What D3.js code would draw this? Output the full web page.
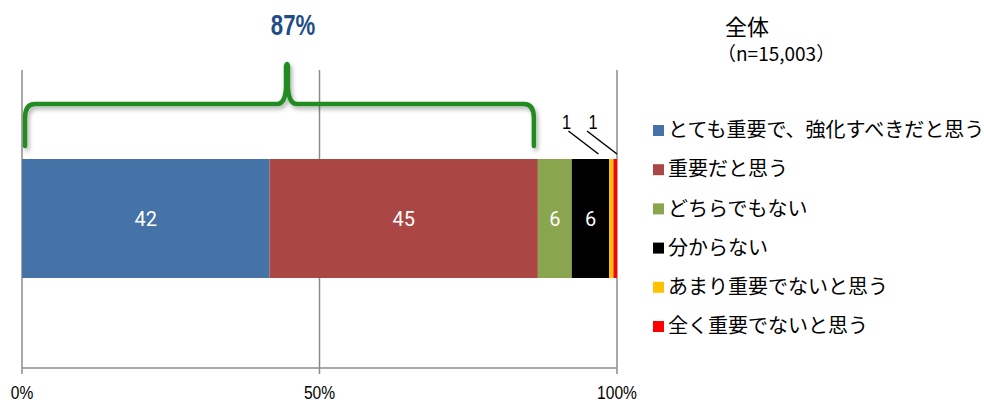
<!DOCTYPE html>
<html>
<head>
<meta charset="utf-8">
<script src="https://cdn.jsdelivr.net/npm/d3@7"></script>
<style>
  body { margin: 0; background: #fff; }
  svg { display: block; }
  .narrow { font-family: "Liberation Sans", Arial, sans-serif; }
  .legend-label { font-family: "Noto Sans CJK JP", sans-serif; font-size: 20px; fill: #000; }
</style>
</head>
<body>
<script>
var categories, values, colors, ticks, svg, x, stacked, acc, defs, brace;

// chart data
categories = ['とても重要で、強化すべきだと思う', '重要だと思う', 'どちらでもない', '分からない', 'あまり重要でないと思う', '全く重要でないと思う'];
values = [41.6, 45.1, 5.7, 6.3, 0.7, 0.6];
colors = ['#4572A7', '#AA4643', '#89A54E', '#000000', '#FFC000', '#FF0000'];
ticks = [0, 50, 100];
var title = '全体';
var subtitle = '（n=15,003）';
var bracketLabel = '87%';
var bracketEnd = 86.7;

svg = d3.select('body').append('svg')
  .attr('width', 984)
  .attr('height', 403);

x = d3.scaleLinear().domain([0, 100]).range([22, 617]);

var barTop = 159, barH = 119, gridTop = 70, gridBottom = 368;

// text squeezed horizontally, stands in for Arial Narrow
function narrowText(px, py, str, size, anchor) {
  return svg.append('text')
    .attr('class', 'narrow')
    .attr('transform', 'translate(' + px + ',' + py + ') scale(0.82,1)')
    .attr('text-anchor', anchor || 'middle')
    .style('font-size', size + 'px')
    .text(str);
}

// stack values
acc = 0;
stacked = values.map(function(v, i) {
  var d = { x0: acc, x1: acc + v, value: v, color: colors[i], name: categories[i] };
  acc += v;
  return d;
});

// gridlines
svg.selectAll('.grid')
  .data(ticks)
  .enter()
  .append('line')
  .attr('class', 'grid')
  .attr('x1', function(d) { return x(d); })
  .attr('x2', function(d) { return x(d); })
  .attr('y1', gridTop)
  .attr('y2', gridBottom + 6)
  .attr('stroke', '#8c8c8c')
  .attr('stroke-width', 1.5);

svg.append('line')
  .attr('x1', x(0)).attr('x2', x(100))
  .attr('y1', gridBottom).attr('y2', gridBottom)
  .attr('stroke', '#8c8c8c')
  .attr('stroke-width', 1.5);

ticks.forEach(function(t) {
  narrowText(x(t), 399, t + '%', 19);
});

// bars
svg.selectAll('.seg')
  .data(stacked)
  .enter()
  .append('rect')
  .attr('class', 'seg')
  .attr('x', function(d) { return x(d.x0); })
  .attr('y', barTop)
  .attr('width', function(d) { return x(d.x1) - x(d.x0); })
  .attr('height', barH)
  .attr('fill', function(d) { return d.color; });

// value labels inside the bigger segments
svg.selectAll('.val')
  .data(stacked.filter(function(d) { return d.value >= 3; }))
  .enter()
  .append('text')
  .attr('class', 'val')
  .attr('x', function(d) { return (x(d.x0) + x(d.x1)) / 2; })
  .attr('y', barTop + barH / 2)
  .attr('dy', '0.36em')
  .attr('text-anchor', 'middle')
  .attr('fill', '#fff')
  .style('font-family', 'Roboto, sans-serif')
  .style('font-size', '20px')
  .text(function(d) { return Math.round(d.value); });

// small segments get labels above with leader lines
var small = stacked.filter(function(d) { return d.value < 3; });
small.forEach(function(d, i) {
  var ex = x(d.x1) - (i === 0 ? 15 : 0);
  var lx = ex - 30;
  svg.append('line')
    .attr('x1', lx).attr('y1', 131)
    .attr('x2', ex).attr('y2', 154)
    .attr('stroke', '#000')
    .attr('stroke-width', 1.5);
  narrowText(lx + (i === 0 ? -2 : 6), 129, Math.round(d.value), 20);
});

// bracket over the top two answers
defs = svg.append('defs');
var f = defs.append('filter').attr('id', 'shadow')
  .attr('x', '-10%').attr('y', '-20%').attr('width', '120%').attr('height', '160%');
f.append('feDropShadow')
  .attr('dx', 2).attr('dy', 3)
  .attr('stdDeviation', 2)
  .attr('flood-color', '#000')
  .attr('flood-opacity', 0.3);

var bx0 = x(0) + 3, bx1 = x(bracketEnd) - 4, mid = 287, hy = 104, by = 146;
brace = d3.path();
brace.moveTo(bx0, by);
brace.lineTo(bx0, hy + 14);
brace.quadraticCurveTo(bx0, hy, bx0 + 10, hy);
brace.lineTo(mid - 10, hy);
brace.quadraticCurveTo(mid - 2, hy, mid - 1, hy - 16);
brace.lineTo(mid - 1, 66);
brace.quadraticCurveTo(mid, 62, mid + 1, 66);
brace.lineTo(mid + 1, hy - 16);
brace.quadraticCurveTo(mid + 2, hy, mid + 10, hy);
brace.lineTo(bx1 - 10, hy);
brace.quadraticCurveTo(bx1, hy, bx1, hy + 14);
brace.lineTo(bx1, by);

svg.append('path')
  .attr('d', brace.toString())
  .attr('fill', 'none')
  .attr('stroke', '#228B22')
  .attr('stroke-width', 4.5)
  .attr('stroke-linecap', 'round')
  .attr('stroke-linejoin', 'round')
  .attr('filter', 'url(#shadow)');

narrowText(293, 35, bracketLabel, 30)
  .attr('fill', '#1F4E86')
  .style('font-weight', 'bold')
  .attr('transform', 'translate(293,35) scale(0.74,1)');

// title
svg.append('text')
  .attr('x', 725).attr('y', 35)
  .style('font-family', '"Noto Sans CJK JP", sans-serif')
  .style('font-size', '22px')
  .text(title);
svg.append('text')
  .attr('x', 717).attr('y', 61)
  .style('font-family', '"Noto Sans CJK JP", sans-serif')
  .style('font-size', '19px')
  .text(subtitle);

// legend
var legend = svg.selectAll('.legend')
  .data(categories)
  .enter()
  .append('g')
  .attr('class', 'legend')
  .attr('transform', function(d, i) { return 'translate(653,' + (130 + i * 39.2) + ')'; });

legend.append('rect')
  .attr('x', 0).attr('y', -5)
  .attr('width', 11).attr('height', 11)
  .attr('fill', function(d, i) { return colors[i]; });

legend.append('text')
  .attr('class', 'legend-label')
  .attr('x', 15)
  .attr('dy', '0.36em')
  .text(function(d) { return d; });
</script>
</body>
</html>
